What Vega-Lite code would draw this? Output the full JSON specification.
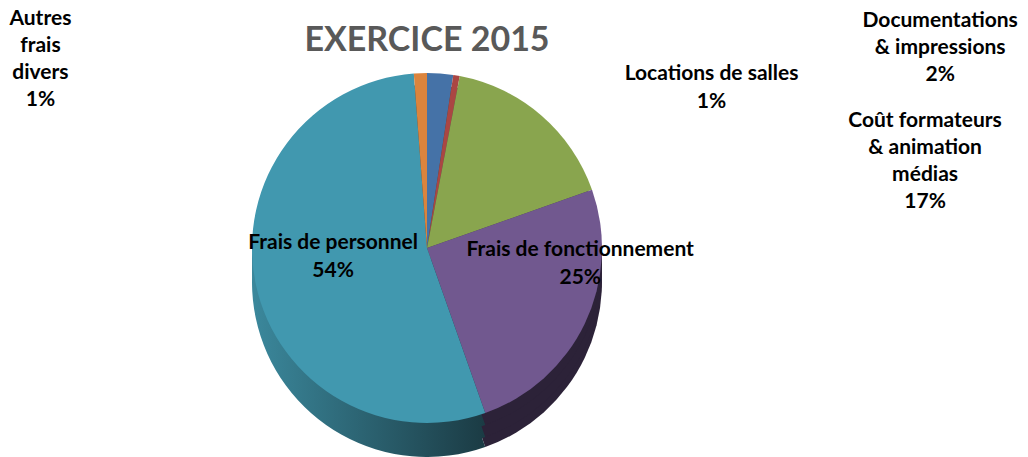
{
  "$schema": "https://vega.github.io/schema/vega-lite/v6.json",
  "width": 854,
  "height": 400,
  "autosize": {"type": "none"},
  "padding": {"left": 0, "right": 174, "top": 48, "bottom": 9},
  "background": "white",
  "title": {"text": "EXERCICE 2015", "font": "Lato", "fontSize": 34, "fontWeight": "bold", "color": "#595959", "anchor": "middle", "offset": -50},
  "config": {"view": {"stroke": null}},
  "data": {"values": [
    {"poste": "Documentations & impressions", "texte": "Documentations\n& impressions\n2%", "valeur": 2.4, "ordre": 1},
    {"poste": "Locations de salles", "texte": "Locations de salles\n1%", "valeur": 0.6, "ordre": 2},
    {"poste": "Coût formateurs & animation médias", "texte": "Coût formateurs\n& animation\nmédias\n17%", "valeur": 16.6, "ordre": 3},
    {"poste": "Frais de fonctionnement", "texte": "Frais de fonctionnement\n25%", "valeur": 25.0, "ordre": 4},
    {"poste": "Frais de personnel", "texte": "Frais de personnel\n54%", "valeur": 54.2, "ordre": 5},
    {"poste": "Autres frais divers", "texte": "Autres\nfrais\ndivers\n1%", "valeur": 1.2, "ordre": 6}
  ]},
  "encoding": {
    "theta": {"field": "valeur", "type": "quantitative", "stack": true, "scale": {"domain": [0, 100]}},
    "order": {"field": "ordre", "type": "quantitative", "sort": "ascending"},
    "detail": {"field": "poste", "type": "nominal"}
  },
  "layer": [
    {"mark": {"type": "arc", "radius": 175, "yOffset": 34},
     "encoding": {"fill": {"condition": [
        {"test": "datum.poste === 'Frais de personnel'", "value": {"gradient": "linear", "x1": 0, "y1": 0, "x2": 1, "y2": 0, "stops": [{"offset": 0, "color": "#3B889C"}, {"offset": 1, "color": "#1B3B44"}]}},
        {"test": "datum.poste === 'Frais de fonctionnement'", "value": "#2C2238"}], "value": "#444444"}}},
    {"mark": {"type": "arc", "radius": 175, "yOffset": 24},
     "encoding": {"fill": {"condition": [
        {"test": "datum.poste === 'Frais de personnel'", "value": {"gradient": "linear", "x1": 0, "y1": 0, "x2": 1, "y2": 0, "stops": [{"offset": 0, "color": "#3B889C"}, {"offset": 1, "color": "#1B3B44"}]}},
        {"test": "datum.poste === 'Frais de fonctionnement'", "value": "#2C2238"}], "value": "#444444"}}},
    {"mark": {"type": "arc", "radius": 175, "yOffset": 12},
     "encoding": {"fill": {"condition": [
        {"test": "datum.poste === 'Frais de personnel'", "value": {"gradient": "linear", "x1": 0, "y1": 0, "x2": 1, "y2": 0, "stops": [{"offset": 0, "color": "#3B889C"}, {"offset": 1, "color": "#1B3B44"}]}},
        {"test": "datum.poste === 'Frais de fonctionnement'", "value": "#2C2238"}], "value": "#444444"}}},
    {"mark": {"type": "arc", "radius": 175},
     "encoding": {"color": {"field": "poste", "type": "nominal", "legend": null,
        "scale": {"domain": ["Documentations & impressions", "Locations de salles", "Coût formateurs & animation médias", "Frais de fonctionnement", "Frais de personnel", "Autres frais divers"],
                  "range": ["#4572A7", "#AA4643", "#89A54E", "#71588F", "#4198AF", "#DB843D"]}}}},
    {"mark": {"type": "text", "radius": 175, "dx": -380, "dy": -54, "font": "Lato", "fontSize": 21, "fontWeight": "bold", "lineBreak": "\n", "lineHeight": 27, "color": "black", "align": "center", "baseline": "middle"},
     "encoding": {"text": {"condition": {"test": "datum.poste === 'Autres frais divers'", "field": "texte", "type": "nominal"}, "value": ""}}},
    {"mark": {"type": "text", "radius": 175, "dx": 500, "dy": -52, "font": "Lato", "fontSize": 21, "fontWeight": "bold", "lineBreak": "\n", "lineHeight": 27, "color": "black", "align": "center", "baseline": "middle"},
     "encoding": {"text": {"condition": {"test": "datum.poste === 'Documentations & impressions'", "field": "texte", "type": "nominal"}, "value": ""}}},
    {"mark": {"type": "text", "radius": 175, "dx": 255, "dy": -2, "font": "Lato", "fontSize": 21, "fontWeight": "bold", "lineBreak": "\n", "lineHeight": 28, "color": "black", "align": "center", "baseline": "middle"},
     "encoding": {"text": {"condition": {"test": "datum.poste === 'Locations de salles'", "field": "texte", "type": "nominal"}, "value": ""}}},
    {"mark": {"type": "text", "radius": 175, "dx": 384, "dy": 6, "font": "Lato", "fontSize": 21, "fontWeight": "bold", "lineBreak": "\n", "lineHeight": 27, "color": "black", "align": "center", "baseline": "middle"},
     "encoding": {"text": {"condition": {"test": "datum.poste === 'Coût formateurs & animation médias'", "field": "texte", "type": "nominal"}, "value": ""}}},
    {"mark": {"type": "text", "radius": 110, "dx": 54, "dy": -45, "font": "Lato", "fontSize": 21, "fontWeight": "bold", "lineBreak": "\n", "lineHeight": 28, "color": "black", "align": "center", "baseline": "middle"},
     "encoding": {"text": {"condition": {"test": "datum.poste === 'Frais de fonctionnement'", "field": "texte", "type": "nominal"}, "value": ""}}},
    {"mark": {"type": "text", "radius": 100, "dx": 4, "dy": -26, "font": "Lato", "fontSize": 21, "fontWeight": "bold", "lineBreak": "\n", "lineHeight": 28, "color": "black", "align": "center", "baseline": "middle"},
     "encoding": {"text": {"condition": {"test": "datum.poste === 'Frais de personnel'", "field": "texte", "type": "nominal"}, "value": ""}}}
  ]
}
